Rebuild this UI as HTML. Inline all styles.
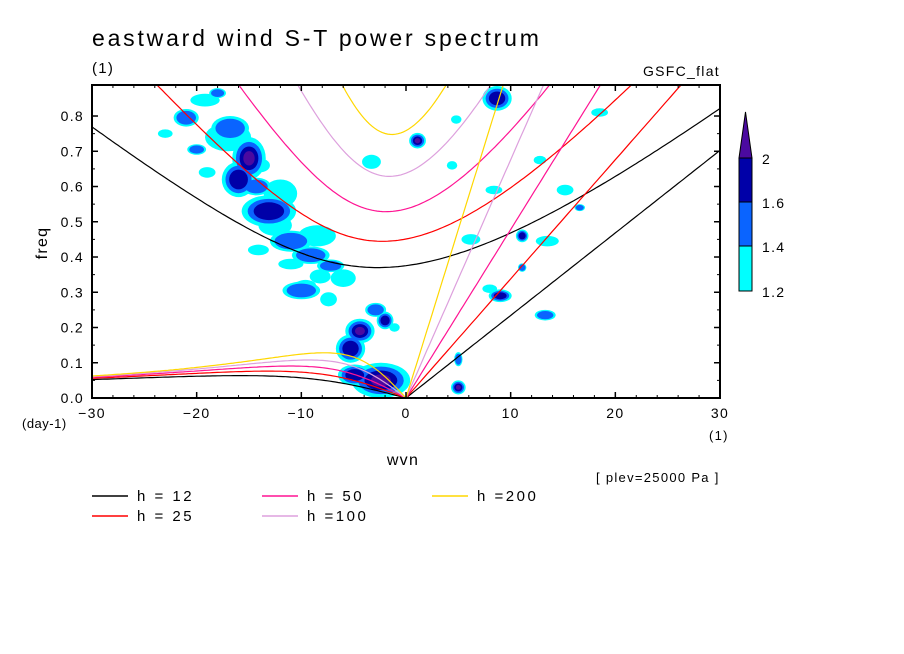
<!DOCTYPE html>
<html><head><meta charset="utf-8"><style>
html,body{margin:0;padding:0;background:#fff;}
svg{display:block;font-family:"Liberation Sans",sans-serif;}
text{letter-spacing:1.3px;}
</style></head><body>
<svg id="chart" width="904" height="654" viewBox="0 0 904 654" xmlns="http://www.w3.org/2000/svg">
<text x="92" y="46" font-size="23" fill="#000" style="letter-spacing:2.8px">eastward wind S-T power spectrum</text>
<text x="92" y="73" font-size="15" fill="#000">(1)</text>
<text x="720" y="76" font-size="14" text-anchor="end" fill="#000">GSFC_flat</text>
<defs><clipPath id="pc"><rect x="92" y="85" width="628" height="313"/></clipPath></defs>
<g id="blobs" clip-path="url(#pc)"></g>
<g id="curves" clip-path="url(#pc)"></g>
<rect x="92" y="85" width="628" height="313" fill="none" stroke="#000" stroke-width="2"/>
<g id="axes"></g>
<text transform="translate(47,243) rotate(-90)" font-size="16" text-anchor="middle">freq</text>
<text x="403" y="465" font-size="16" text-anchor="middle">wvn</text>
<text x="22" y="428" font-size="13" style="letter-spacing:0.5px">(day-1)</text>
<text x="709" y="440" font-size="13">(1)</text>
<text x="596" y="482" font-size="13">[ plev=25000 Pa ]</text>
<g id="cbar"></g>
<g id="legend"></g>
</svg>
<script>
const hValues=[12,25,50,100,200];
const hColors=["#000000","#ff0000","#ff1493","#dda0dd","#ffd700"];
const xTicks=[-30,-20,-10,0,10,20,30];
const yTicks=[0,0.1,0.2,0.3,0.4,0.5,0.6,0.7,0.8];
const levelColors=["#00ffff","#0a64ff","#0000a8","#4b0aa0"];
const cbarLabels=["1.2","1.4","1.6","2"];
// blobs: wvn, freq, half-width (wvn), half-height (freq), level
const blobWvn=[-19.2,-18,-21,-16.8,-15,-20,-16,-13.1,-14.3,-11,-9.1,-7.2,-14.1,-10,-9.6,-8.2,-7.4,-4.4,-2.9,-2,-1.1,-5.3,-2.4,-4.9,1.1,5.0,5.0,8.7,9.0,11.1,11.1,13.5,4.4,8.4,12.8,15.2,16.6,13.3,18.5,4.8,6.2,8.0,-23,-3.3,-17,-12,-12.5,-8.5,-6,-11,-14,-19];
const blobFrq=[0.845,0.865,0.795,0.765,0.68,0.705,0.62,0.53,0.6,0.445,0.405,0.375,0.42,0.305,0.32,0.345,0.28,0.19,0.25,0.22,0.2,0.14,0.05,0.065,0.73,0.03,0.11,0.85,0.29,0.46,0.37,0.445,0.66,0.59,0.675,0.59,0.54,0.235,0.81,0.79,0.45,0.31,0.75,0.67,0.74,0.58,0.49,0.46,0.34,0.38,0.66,0.64];
const blobRw=[1.4,0.8,1.2,1.8,1.6,0.9,1.6,2.6,1.4,2.0,1.8,1.3,1.0,1.8,1.0,1.0,0.8,1.4,1.0,0.8,0.5,1.4,2.8,1.6,0.8,0.7,0.4,1.4,1.1,0.6,0.4,1.1,0.5,0.8,0.6,0.8,0.5,1.0,0.8,0.5,0.9,0.7,0.7,0.9,2.2,1.6,1.6,1.8,1.2,1.2,1.0,0.8];
const blobRf=[0.018,0.014,0.025,0.035,0.06,0.015,0.05,0.045,0.025,0.03,0.025,0.018,0.015,0.025,0.015,0.02,0.02,0.035,0.02,0.025,0.012,0.04,0.05,0.03,0.022,0.02,0.02,0.035,0.018,0.018,0.012,0.015,0.012,0.012,0.012,0.015,0.01,0.015,0.012,0.012,0.015,0.012,0.012,0.02,0.04,0.04,0.03,0.03,0.025,0.015,0.02,0.015];
const blobLvl=[1,2,2,2,4,2,3,3,2,2,2,2,1,2,1,1,1,4,2,3,1,3,4,3,4,4,2,3,3,3,2,1,1,1,1,1,2,2,1,1,1,1,1,1,1,1,1,1,1,1,1,1];

const X0=92,X1=720,Y0=398,Y1=85;
const xs=w=>X0+(w+30)/60*(X1-X0);
const ys=f=>Y0-f/0.888*(Y0-Y1);
const NS="http://www.w3.org/2000/svg";
function mk(tag,attrs,parent){const e=document.createElementNS(NS,tag);for(const k in attrs)e.setAttribute(k,attrs[k]);parent.appendChild(e);return e;}

const bg=document.getElementById('blobs');
for(let l=1;l<=4;l++){
  for(let i=0;i<blobWvn.length;i++){
    if(blobLvl[i]<l)continue;
    const s=1-0.22*(l-1);
    const e=mk('ellipse',{cx:xs(blobWvn[i]),cy:ys(blobFrq[i]),rx:blobRw[i]*10.47*s,ry:blobRf[i]*352.5*s,fill:levelColors[l-1]},bg);
    
    
  }
}

const g=9.81,beta=2.29e-11,a=6.371e6,cpd=86400/(2*Math.PI);
function solve(k,c,w0){let w=w0;for(let i=0;i<60;i++){const f=w*w*w-(c*c*k*k+3*beta*c)*w-beta*c*c*k;const d=3*w*w-(c*c*k*k+3*beta*c);w-=f/d;}return w;}
const cg=document.getElementById('curves');
hValues.forEach((h,j)=>{
  const c=Math.sqrt(g*h);
  let ig=[],er=[],kv=[];
  for(let w=-30;w<=30.001;w+=0.25){
    const k=w/a;
    ig.push([xs(w),ys(solve(k,c,Math.sqrt(c*c*k*k+3*beta*c)*1.2)*cpd)]);
    if(w<0){const w0=-beta*k/(k*k+3*beta/c);er.push([xs(w),ys(solve(k,c,w0)*cpd)]);}
    if(w>=0)kv.push([xs(w),ys(c*k*cpd)]);
  }
  er.push([xs(0),ys(0)]);
  [[ig,'ig-curve'],[er,'er-curve'],[kv,'kelvin-line']].forEach(([pts,nm])=>{
    const p=mk('polyline',{points:pts.map(q=>q[0].toFixed(1)+','+q[1].toFixed(1)).join(' '),fill:'none',stroke:hColors[j],'stroke-width':1.2},cg);
    
    
  });
});

const ag=document.getElementById('axes');
xTicks.forEach(t=>{
  mk('line',{x1:xs(t),x2:xs(t),y1:Y0,y2:Y0-6,stroke:'#000','stroke-width':1.5},ag);
  mk('line',{x1:xs(t),x2:xs(t),y1:Y1,y2:Y1+6,stroke:'#000','stroke-width':1.5},ag);
  const tx=mk('text',{x:xs(t),y:418,'font-size':14,'text-anchor':'middle'},ag);
  tx.textContent=(t<0?'\u2212'+(-t):t);
  
  
});
for(let t=-28;t<30;t+=2){if(t%10===0)continue;
  mk('line',{x1:xs(t),x2:xs(t),y1:Y0,y2:Y0-3,stroke:'#000'},ag);
  mk('line',{x1:xs(t),x2:xs(t),y1:Y1,y2:Y1+3,stroke:'#000'},ag);}
yTicks.forEach(t=>{
  mk('line',{x1:X0,x2:X0+6,y1:ys(t),y2:ys(t),stroke:'#000','stroke-width':1.5},ag);
  mk('line',{x1:X1,x2:X1-6,y1:ys(t),y2:ys(t),stroke:'#000','stroke-width':1.5},ag);
  const tx=mk('text',{x:84,y:ys(t)+5,'font-size':14,'text-anchor':'end'},ag);
  tx.textContent=t.toFixed(1);
  
  
  if(t<0.8){const m=ys(t+0.05);
    mk('line',{x1:X0,x2:X0+3,y1:m,y2:m,stroke:'#000'},ag);
    mk('line',{x1:X1,x2:X1-3,y1:m,y2:m,stroke:'#000'},ag);}
});

const cb=document.getElementById('cbar');
const segY=[291,246,202,158];
for(let i=0;i<3;i++){mk('rect',{x:739,y:segY[i+1],width:13,height:segY[i]-segY[i+1],fill:levelColors[i],stroke:'#000','stroke-width':1},cb);}
mk('polygon',{points:'739,158 752,158 745.5,112',fill:levelColors[3],stroke:'#000','stroke-width':1},cb);
cbarLabels.forEach((lb,i)=>{const t=mk('text',{x:762,y:segY[i]+6,'font-size':14},cb);t.textContent=lb;
  
  });

const lg=document.getElementById('legend');
const legX=[92,92,262,262,432],legY=[496,516,496,516,496];
const legTxt=["h = 12","h = 25","h = 50","h =100","h =200"];
hValues.forEach((h,i)=>{
  const e=mk('g',{},lg);
  
  
  mk('line',{x1:legX[i],x2:legX[i]+36,y1:legY[i],y2:legY[i],stroke:hColors[i],'stroke-width':1.5},e);
  const t=mk('text',{x:legX[i]+45,y:legY[i]+5,'font-size':15,style:'letter-spacing:2.5px'},e);t.textContent=legTxt[i];
});
</script>
</body></html>
